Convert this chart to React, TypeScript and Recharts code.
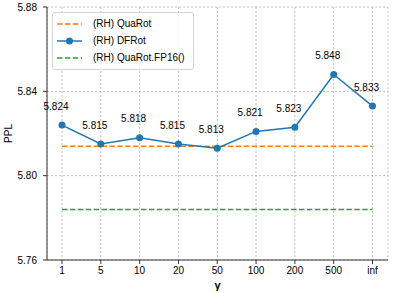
import React from 'react';
import {
  ComposedChart,
  Line,
  XAxis,
  YAxis,
  CartesianGrid,
  Legend,
  LabelList,
} from 'recharts';

const gammas = ['1', '5', '10', '20', '50', '100', '200', '500', 'inf'];
const dfrot = [5.824, 5.815, 5.818, 5.815, 5.813, 5.821, 5.823, 5.848, 5.833];
const quarot = [5.814, 5.814, 5.814, 5.814, 5.814, 5.814, 5.814, 5.814, 5.814];
const quarotFp16 = [5.784, 5.784, 5.784, 5.784, 5.784, 5.784, 5.784, 5.784, 5.784];
const yTicks = [5.76, 5.8, 5.84, 5.88];

const data = gammas.map((g, i) => ({
  gamma: g,
  dfrot: dfrot[i],
  quarot: quarot[i],
  fp16: quarotFp16[i],
}));

const FONT = '"Liberation Sans", Arial, sans-serif';
const BLUE = '#1f77b4';
const ORANGE = '#ff7f0e';
const GREEN = '#2ca02c';
const DASH = '5.5 2.4';

const legendItems = [
  { name: '(RH) QuaRot', color: ORANGE, dashed: true, marker: false },
  { name: '(RH) DFRot', color: BLUE, dashed: false, marker: true },
  { name: '(RH) QuaRot.FP16()', color: GREEN, dashed: true, marker: false },
];

const LegendBox = () => (
  <div
    style={{
      border: '1px solid #d5d5d5',
      borderRadius: 3,
      background: 'rgba(255,255,255,0.85)',
      padding: '2px 8px 3px 3px',
      fontFamily: FONT,
      fontSize: 10,
      color: '#000',
    }}
  >
    {legendItems.map((it) => (
      <div key={it.name} style={{ display: 'flex', alignItems: 'center', height: 17 }}>
        <svg width={33} height={10} style={{ marginRight: 4 }}>
          <line
            x1={1}
            x2={26}
            y1={5}
            y2={5}
            stroke={it.color}
            strokeWidth={1.5}
            strokeDasharray={it.dashed ? DASH : undefined}
          />
          {it.marker && <circle cx={13.5} cy={5} r={3.5} fill={it.color} />}
        </svg>
        <span>{it.name}</span>
      </div>
    ))}
  </div>
);

const PointLabel = (props: any) => {
  const { x, y, value } = props;
  return (
    <text x={x - 6} y={y - 19} textAnchor="middle" dominantBaseline="central" fontSize={10} fontFamily={FONT} fill="#000">
      {Number(value).toFixed(3)}
    </text>
  );
};

export default function App() {
  return (
    <div style={{ position: 'absolute', left: 0, top: 0, background: '#fff' }}>
      <ComposedChart
        width={409}
        height={293}
        data={data}
        margin={{ top: 7, right: 21, left: 0, bottom: 0 }}
        style={{ fontFamily: FONT }}
      >
        <CartesianGrid stroke="#b0b0b0" strokeDasharray="2 2" strokeWidth={0.8} />
        <XAxis
          dataKey="gamma"
          scale="point"
          padding={{ left: 15, right: 15.5 }}
          height={33}
          tickSize={4}
          tickMargin={3}
          tick={{ fontSize: 10, fill: '#000', fontFamily: FONT }}
          stroke="#333"
          tickLine={{ stroke: '#333' }}
          interval={0}
          label={{
            content: () => (
              <text x={217.5} y={289} textAnchor="middle" fontSize={11} fontWeight="bold" fontFamily={FONT} fill="#000">
                γ
              </text>
            ),
          }}
        />
        <XAxis xAxisId="top" dataKey="gamma" orientation="top" height={0} tick={false} tickLine={false} stroke="#333" />
        <YAxis
          domain={[5.76, 5.88]}
          ticks={yTicks}
          width={47}
          tickSize={4}
          tickMargin={6}
          tickFormatter={(v: number) => v.toFixed(2)}
          tick={{ fontSize: 10, fill: '#000', fontFamily: FONT }}
          stroke="#333"
          tickLine={{ stroke: '#333' }}
          allowDataOverflow
          label={{
            content: () => (
              <text x={8} y={133.5} transform="rotate(-90 8 133.5)" textAnchor="middle" dominantBaseline="central" fontSize={10} fontFamily={FONT} fill="#000">
                PPL
              </text>
            ),
          }}
        />
        <YAxis yAxisId="right" orientation="right" width={0} tick={false} tickLine={false} stroke="#333" />
        <Legend
          layout="vertical"
          align="center"
          verticalAlign="middle"
          wrapperStyle={{ left: 52, top: 12, width: 'auto' }}
          content={() => <LegendBox />}
        />
        <Line
          dataKey="quarot"
          name="(RH) QuaRot"
          stroke={ORANGE}
          strokeWidth={1.5}
          strokeDasharray={DASH}
          dot={false}
          isAnimationActive={false}
        />
        <Line
          dataKey="dfrot"
          name="(RH) DFRot"
          stroke={BLUE}
          strokeWidth={1.5}
          dot={{ r: 3.5, fill: BLUE, stroke: BLUE, strokeWidth: 0 }}
          isAnimationActive={false}
        >
          <LabelList dataKey="dfrot" content={PointLabel} />
        </Line>
        <Line
          dataKey="fp16"
          name="(RH) QuaRot.FP16()"
          stroke={GREEN}
          strokeWidth={1.5}
          strokeDasharray={DASH}
          dot={false}
          isAnimationActive={false}
        />
      </ComposedChart>
    </div>
  );
}
